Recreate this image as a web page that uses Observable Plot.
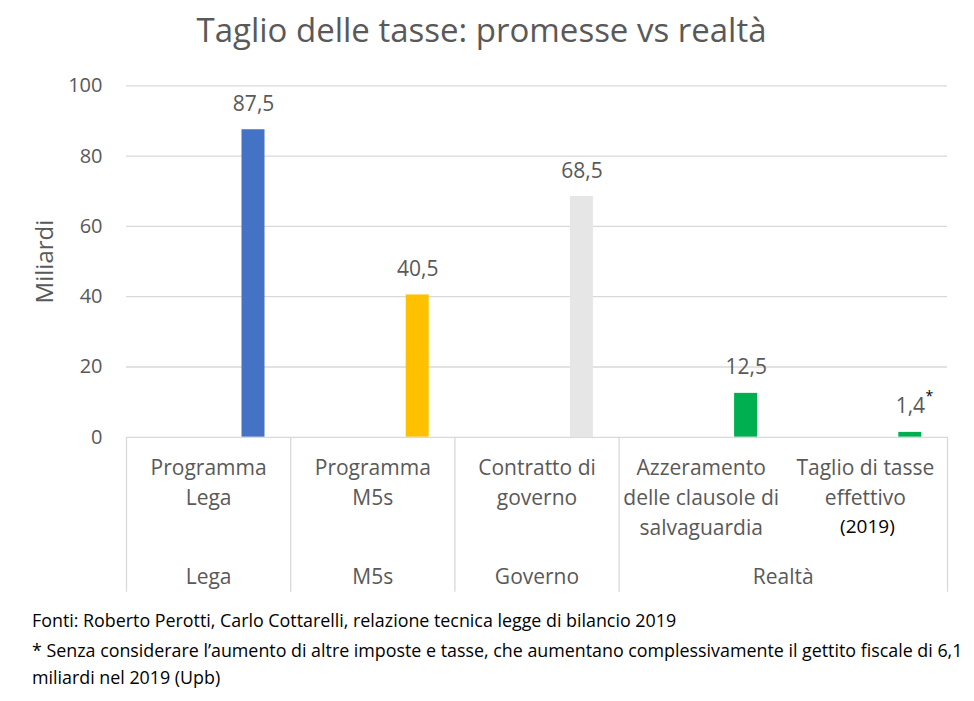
<!DOCTYPE html>
<html><head><meta charset="utf-8">
<script src="https://cdn.jsdelivr.net/npm/d3@7"></script>
<script src="https://cdn.jsdelivr.net/npm/@observablehq/plot@0.6"></script>
<style>
body{margin:0;background:#fff;}
#wrap{position:relative;width:974px;height:701px;font-family:"Open Sans",sans-serif;overflow:hidden;}
#title{position:absolute;left:0;width:963px;top:12.7px;text-align:center;font-size:33px;line-height:1;color:#595959;white-space:nowrap;}
#chart{position:absolute;left:0;top:0;}
.foot{position:absolute;left:32px;font-size:17.85px;line-height:1;color:#000;white-space:nowrap;}
</style></head>
<body>
<div id="wrap">
  <div id="chart"></div>
  <div id="title">Taglio delle tasse: promesse vs realtà</div>
  <div class="foot" style="top:612.2px">Fonti: Roberto Perotti, Carlo Cottarelli, relazione tecnica legge di bilancio 2019</div>
  <div class="foot" style="top:642.1px">* Senza considerare l’aumento di altre imposte e tasse, che aumentano complessivamente il gettito fiscale di 6,1</div>
  <div class="foot" style="top:669.1px">miliardi nel 2019 (Upb)</div>
</div>
<script>
const categories = ["Programma\nLega", "Programma\nM5s", "Contratto di\ngoverno", "Azzeramento\ndelle clausole di\nsalvaguardia", "Taglio di tasse\neffettivo"];
const groups = ["Lega", "M5s", "Governo", "Realtà", "Realtà"];
const values = [87.5, 40.5, 68.5, 12.5, 1.4];
const colors = ["#4472C4", "#FFC000", "#E7E6E6", "#00B050", "#00B050"];
const yTicks = [0, 20, 40, 60, 80, 100];
const notes = [{index: 4, text: "(2019)"}];
const footnoteMarks = [{index: 4, text: "*"}];

const rows = categories.map((label, i) => ({i, label, group: groups[i], value: values[i], color: colors[i]}));
const spans = [];
groups.forEach((g, i) => {
  const last = spans[spans.length - 1];
  if (last && last.group === g) last.end = i + 1;
  else spans.push({group: g, start: i, end: i + 1});
});
const boundaries = [0, ...spans.map(s => s.end)];
const fmt = v => d3.format(".1f")(v).replace(".", ",");
const gray = "#595959";

const chart = Plot.plot({
  width: 974, height: 600,
  marginTop: 85.3, marginBottom: 163.2, marginLeft: 126, marginRight: 27,
  x: {domain: [0, categories.length], axis: null},
  y: {domain: [0, 100], axis: null},
  color: {type: "identity"},
  style: {fontFamily: '"Open Sans", sans-serif', color: gray, background: "white"},
  marks: [
    Plot.ruleY(yTicks.slice(1), {stroke: "#D9D9D9", strokeWidth: 1.3}),
    Plot.axisY({ticks: yTicks, tickSize: 0, tickPadding: 24, fontSize: 20, tickFormat: d => d, label: null}),
    Plot.text(["Miliardi"], {frameAnchor: "left", textAnchor: "middle", rotate: -90, dx: -80.7, fontSize: 24, fill: gray}),
    Plot.rectY(rows, {x1: "i", x2: d => d.i + 1, y: "value", fill: "color", insetLeft: 115.5, insetRight: 25.7}),
    Plot.ruleY([0], {stroke: "#D9D9D9", strokeWidth: 1.3}),
    Plot.ruleX(boundaries, {x: d => d, y1: 0, y2: 0, insetBottom: -155, stroke: "#D9D9D9", strokeWidth: 1.3}),
    Plot.text(rows, {x: d => d.i + 0.5, y: "value", text: d => fmt(d.value), dx: 45, dy: -19, lineAnchor: "bottom", fontSize: 21, fill: gray}),
    Plot.text(rows, {x: d => d.i + 0.5, text: "label", frameAnchor: "bottom", lineAnchor: "top", dy: 16, lineHeight: 1.43, fontSize: 21, fill: gray}),
    Plot.text(spans, {x: d => (d.start + d.end) / 2, text: "group", frameAnchor: "bottom", lineAnchor: "top", dy: 132, fontSize: 21, fill: gray}),
    Plot.text(notes, {x: d => d.index + 0.5, text: "text", frameAnchor: "bottom", lineAnchor: "top", dx: 2, dy: 82, fontSize: 19, fill: "black"}),
    Plot.text(footnoteMarks, {x: d => d.index + 0.5, y: d => values[d.index], text: "text", dx: 64, dy: -31, lineAnchor: "bottom", fontSize: 14, fill: "black"})
  ]
});
document.getElementById("chart").appendChild(chart);
</script>
</body></html>
